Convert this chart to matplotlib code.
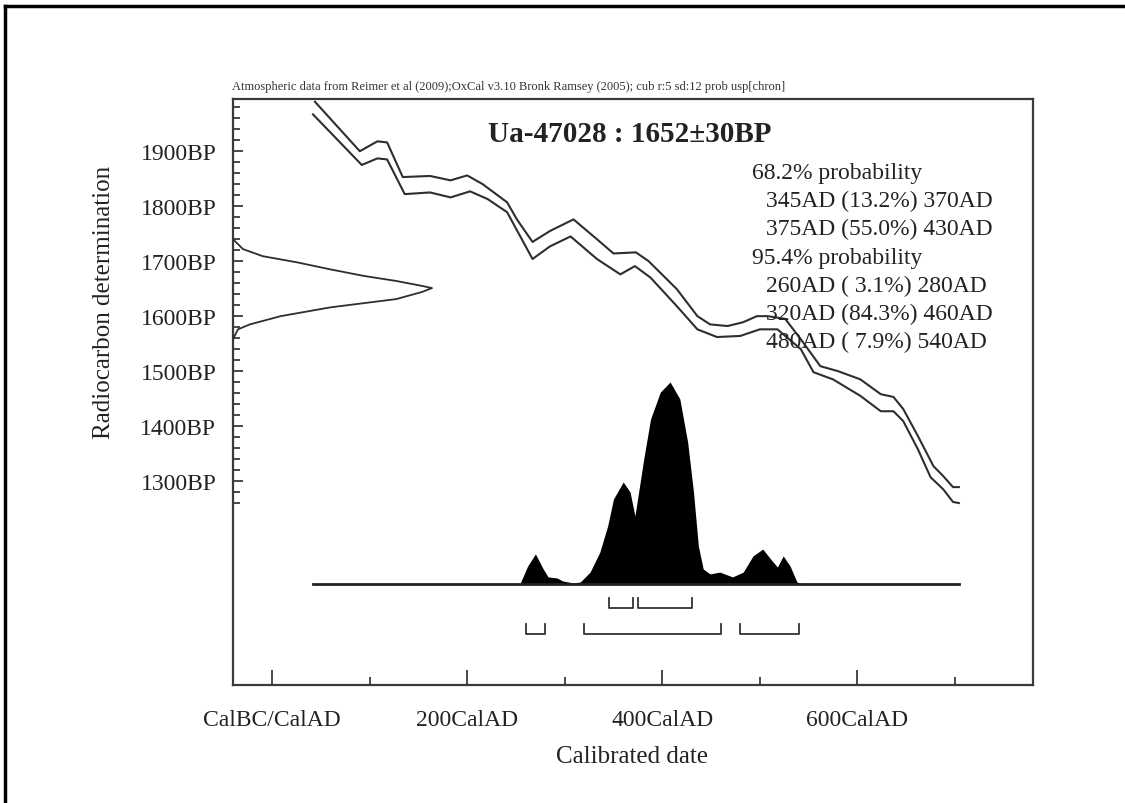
import matplotlib
matplotlib.use("Agg")
import matplotlib.pyplot as plt
from matplotlib.lines import Line2D

plt.rcParams['font.family'] = ['Liberation Serif', 'DejaVu Serif']

# ---------------- data ----------------
# calibration curve (upper / lower 1-sigma envelope): calendar year AD, BP
cal_upper_year = [44, 90, 108, 118, 134, 162, 183, 200, 216, 241, 251, 267, 285, 309, 333, 350,
                  373, 386, 415, 436, 449, 467, 483, 497, 508, 526, 542, 562, 580, 603,
                  624, 637, 647, 662, 678, 688, 698, 704]
cal_upper_bp = [1990, 1900, 1918, 1916, 1853, 1855, 1847, 1856, 1840, 1807, 1776, 1735, 1755, 1776, 1740, 1714,
                1716, 1700, 1649, 1600, 1585, 1582, 1589, 1600, 1600, 1595, 1558, 1509, 1500, 1485,
                1458, 1453, 1431, 1382, 1327, 1309, 1289, 1289]
cal_lower_year = [42, 92, 108, 118, 136, 162, 183, 203, 221, 241, 267, 285, 306, 333, 357, 372,
                  388, 415, 436, 456, 480, 500, 518, 542, 555, 575, 603,
                  624, 637, 647, 662, 675, 688, 698, 704]
cal_lower_bp = [1967, 1875, 1887, 1885, 1822, 1825, 1816, 1827, 1813, 1789, 1704, 1727, 1745, 1704, 1676, 1691,
                1670, 1618, 1576, 1562, 1564, 1576, 1576, 1540, 1498, 1485, 1455,
                1427, 1427, 1409, 1358, 1307, 1285, 1262, 1260]

# radiocarbon measurement distribution (BP, relative density)
c14_bp = [1740, 1722, 1709, 1698, 1685, 1673, 1664, 1655, 1651, 1644, 1631, 1616, 1600, 1585, 1576, 1558]
c14_density = [0.0, 0.05, 0.15, 0.32, 0.49, 0.66, 0.82, 0.95, 1.0, 0.95, 0.82, 0.49, 0.24, 0.085, 0.025, 0.0]

# calibrated probability distribution (calendar year AD, relative density)
post_year = [42, 254, 262, 270, 278, 283, 292, 298, 309, 316, 326, 336, 344, 350, 360, 367, 372,
             381, 388, 398, 408, 418, 426, 432, 437, 442, 449, 459, 472, 483, 493, 503, 511, 518,
             524, 531, 538, 544, 704]
post_density = [0.0, 0.0, 0.089, 0.149, 0.074, 0.035, 0.030, 0.015, 0.005, 0.010, 0.059, 0.158, 0.287,
                0.421, 0.505, 0.455, 0.337, 0.619, 0.817, 0.950, 1.0, 0.916, 0.703, 0.455, 0.188,
                0.074, 0.050, 0.059, 0.035, 0.059, 0.139, 0.173, 0.124, 0.084, 0.139, 0.089, 0.010,
                0.0, 0.0]

# probability ranges
range68 = [(345, 370), (375, 430)]
range95 = [(260, 280), (320, 460), (480, 540)]

x_ticks = [0, 200, 400, 600]
x_tick_labels = ['CalBC/CalAD', '200CalAD', '400CalAD', '600CalAD']
x_minor = [100, 300, 500, 700]
y_ticks = [1300, 1400, 1500, 1600, 1700, 1800, 1900]
y_tick_labels = ['1300BP', '1400BP', '1500BP', '1600BP', '1700BP', '1800BP', '1900BP']
y_minor = [v for v in range(1260, 1981, 20) if v % 100 != 0]

title = 'Ua-47028 : 1652\u00b130BP'
header = 'Atmospheric data from Reimer et al (2009);OxCal v3.10 Bronk Ramsey (2005); cub r:5 sd:12 prob usp[chron]'
prob_lines = ['68.2% probability', '345AD (13.2%) 370AD', '375AD (55.0%) 430AD',
              '95.4% probability', '260AD ( 3.1%) 280AD', '320AD (84.3%) 460AD', '480AD ( 7.9%) 540AD']
prob_indent = [0, 1, 1, 0, 1, 1, 1]

# ---------------- figure ----------------
W, H = 1125, 804
fig = plt.figure(figsize=(W / 100, H / 100), dpi=100)

def fx(x):
    return x / W

def fy(y):
    return 1 - y / H

L, T, R, B = 233, 100, 1033, 686
ax = fig.add_axes([fx(L), fy(B), (R - L) / W, (B - T) / H])
ax.set_xlim(-40, 780)
ax.set_ylim(929, 1995)

frame_col = '#3a3a3a'
for s in ax.spines.values():
    s.set_color(frame_col)
    s.set_linewidth(1.6)

ax.set_xticks(x_ticks)
ax.set_xticklabels(x_tick_labels, fontsize=17, color='#222222')
ax.set_xticks(x_minor, minor=True)
ax.set_yticks(y_ticks)
ax.set_yticklabels(y_tick_labels, fontsize=17, color='#222222')
ax.set_yticks(y_minor, minor=True)
ax.tick_params(axis='x', which='major', direction='in', length=11, width=1.3, pad=17, colors=frame_col, labelcolor='#222222')
ax.tick_params(axis='x', which='minor', direction='in', length=6, width=1.3, colors=frame_col)
ax.tick_params(axis='y', which='major', direction='in', length=7, width=1.3, pad=12, colors=frame_col, labelcolor='#222222')
ax.tick_params(axis='y', which='minor', direction='in', length=5, width=1.3, colors=frame_col)

curve_col = '#2e2e2e'
ax.plot(cal_upper_year, cal_upper_bp, color=curve_col, lw=1.5, solid_joinstyle='round')
ax.plot(cal_lower_year, cal_lower_bp, color=curve_col, lw=1.5, solid_joinstyle='round')

# radiocarbon gaussian along y-axis
axg = ax.twiny()
axg.set_xlim(0, (R - L) / 199)
axg.set_ylim(ax.get_ylim())
axg.plot(c14_density, c14_bp, color=curve_col, lw=1.3, solid_joinstyle='round')
axg.axis('off')

# calibrated distribution
axd = ax.twinx()
axd.set_xlim(ax.get_xlim())
base_frac = (B - 585) / (B - T)
unit_frac = 202 / (B - T)
ymin = -base_frac / unit_frac
axd.set_ylim(ymin, ymin + 1 / unit_frac)
axd.fill_between(post_year, 0, post_density, color='black', lw=0)
axd.plot([post_year[0], post_year[-1]], [0, 0], color='#222222', lw=2)

def bracket(a, b, level):
    tick = 10 / 202
    axd.plot([a, a, b, b], [level + tick, level, level, level + tick], color='#333333', lw=1.3)

lev68 = -(609 - 585) / 202
lev95 = -(635 - 585) / 202
for a, b in range68:
    bracket(a, b, lev68)
for a, b in range95:
    bracket(a, b, lev95)
axd.axis('off')

# texts
fig.text(fx(630), fy(142), title, fontsize=21, fontweight='bold', ha='center', va='baseline', color='#222222')
fig.text(fx(232), fy(90), header, fontsize=9, ha='left', va='baseline', color='#333333')
y0 = 179
for i, (line, ind) in enumerate(zip(prob_lines, prob_indent)):
    fig.text(fx(752 + 14 * ind), fy(y0 + 28.2 * i), line, fontsize=17, ha='left', va='baseline', color='#222222')

fig.text(fx(632), fy(757), 'Calibrated date', fontsize=18, ha='center', va='center', color='#222222')
fig.text(fx(104), fy(302), 'Radiocarbon determination', fontsize=18, rotation=90, ha='center', va='center', color='#222222')

# outer scan border (top and left)
fig.add_artist(Line2D([fx(5), fx(1125)], [fy(7), fy(7)], color='black', lw=2.5))
fig.add_artist(Line2D([fx(5), fx(5)], [fy(7), fy(804)], color='black', lw=2.5))

fig.savefig('out.png', dpi=100, facecolor='white')
